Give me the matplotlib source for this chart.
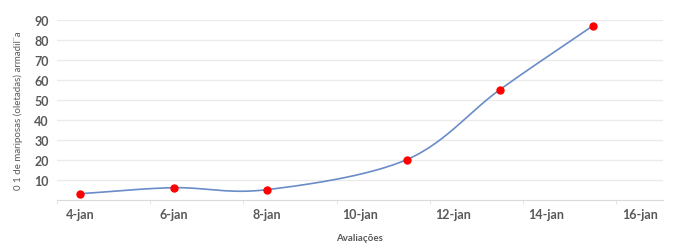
import numpy as np
import matplotlib.pyplot as plt

plt.rcParams['font.family'] = ['Lato', 'DejaVu Sans']

# dados (dia de janeiro, contagem)
dias = [4, 6, 8, 11, 13, 15]
valores = [3, 6, 5, 20, 55, 87]
ticks_x = [4, 6, 8, 10, 12, 14, 16]
rotulos_x = ['4-jan', '6-jan', '8-jan', '10-jan', '12-jan', '14-jan', '16-jan']
ticks_y = [10, 20, 30, 40, 50, 60, 70, 80, 90]


# linha suavizada estilo Excel (Catmull-Rom)
def suavizar(x, y, n=30):
    x = np.asarray(x, float)
    y = np.asarray(y, float)
    px = np.concatenate([[2 * x[0] - x[1]], x, [2 * x[-1] - x[-2]]])
    py = np.concatenate([[2 * y[0] - y[1]], y, [2 * y[-1] - y[-2]]])
    xs, ys = [], []
    t = np.linspace(0, 1, n)
    for i in range(1, len(px) - 2):
        p0, p1, p2, p3 = [np.array([px[j], py[j]]) for j in range(i - 1, i + 3)]
        c1 = p1 + (p2 - p0) / 6
        c2 = p2 - (p3 - p1) / 6
        b = ((1 - t) ** 3)[:, None] * p1 + (3 * (1 - t) ** 2 * t)[:, None] * c1 \
            + (3 * (1 - t) * t ** 2)[:, None] * c2 + (t ** 3)[:, None] * p2
        xs.extend(b[:, 0])
        ys.extend(b[:, 1])
    return xs, ys


fig = plt.figure(figsize=(6.73, 2.51), dpi=100)
ax = fig.add_axes([0.0847, 0.2004, 0.9003, 0.7171])

sx, sy = suavizar(dias, valores)
ax.plot(sx, sy, color='#6A8CC8', linewidth=1.2, zorder=2)
ax.plot(dias, valores, 'o', color='#FF0000', markersize=5, zorder=3)

ax.set_xlim(3.5, 16.5)
ax.set_ylim(0, 90)
ax.set_xticks(ticks_x)
ax.set_xticklabels(rotulos_x)
ax.set_xticks(np.arange(3.5, 16.6, 2), minor=True)
ax.set_yticks(ticks_y)

for s in ['top', 'right', 'left']:
    ax.spines[s].set_visible(False)
ax.spines['bottom'].set_color('#D9D9D9')
ax.grid(axis='y', color='#EBEBEB', linewidth=1)
ax.set_axisbelow(True)

ax.tick_params(axis='x', which='major', length=0, pad=6, labelsize=9, labelcolor='#595959')
ax.tick_params(axis='x', which='minor', length=3, color='#E0E0E0')
ax.tick_params(axis='y', length=0, pad=6, labelsize=9, labelcolor='#595959')
for lab in ax.get_xticklabels() + ax.get_yticklabels():
    lab.set_fontweight('bold')

ax.set_xlabel('Avaliações', fontsize=7, color='#595959', labelpad=9, fontweight='bold')
ax.set_ylabel('0 1 de mariposas (oletadas) armadil¨a', fontsize=7, color='#595959', labelpad=8)

plt.savefig('out.png', dpi=100)
